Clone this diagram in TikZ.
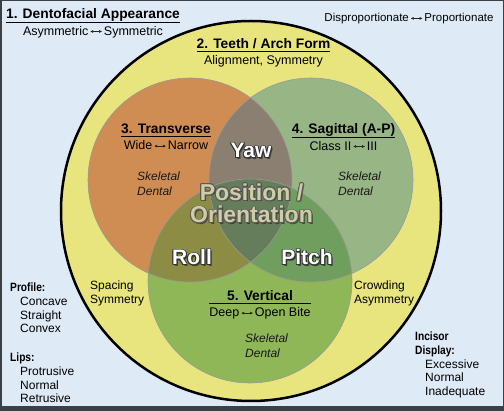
\documentclass[tikz,border=0pt]{standalone}
\usepackage{fontspec}
\setmainfont{Liberation Sans}
\usepackage{graphicx}
\usepackage{contour}
\contourlength{0.8pt}
\usetikzlibrary{arrows.meta}

\definecolor{frameC}{HTML}{3B4046}
\definecolor{skyC}{HTML}{DEEAF6}
\definecolor{archC}{HTML}{E8E57F}
\definecolor{transC}{HTML}{CF8D54}
\definecolor{sagC}{HTML}{98B586}
\definecolor{vertC}{HTML}{8FB657}
\definecolor{yawC}{HTML}{8A7F70}
\definecolor{rollC}{HTML}{8C8C44}
\definecolor{pitchC}{HTML}{6F9E5E}
\definecolor{midC}{HTML}{667D5B}
\definecolor{posC}{HTML}{CFCCA6}

\newsavebox{\arrbox}
\newcommand{\lra}{\kern1.5pt\raisebox{2.1pt}{\usebox{\arrbox}}\kern1.5pt}
\newcommand{\hd}[1]{\scalebox{0.85}[1]{\bfseries #1}}
\newcommand{\ind}{\hspace*{10pt}}
\newcommand{\ttl}[2]{{\renewcommand{\arraystretch}{0}\setlength{\arrayrulewidth}{1pt}%
  \begin{tabular}{@{}c@{}}{\fontsize{13.8}{16}\selectfont\bfseries #1}\rule[-2.5pt]{0pt}{13pt}\\\hline
  \rule{0pt}{12.5pt}#2\rule[-3.5pt]{0pt}{0pt}\end{tabular}}}

\begin{document}
\sbox{\arrbox}{\begin{pgfpicture}\color{black!85}\pgfsetlinewidth{0.6pt}%
  \pgfsetarrows{Latex[length=3pt,width=3pt]-Latex[length=3pt,width=3pt]}%
  \pgfpathmoveto{\pgfpointorigin}\pgfpathlineto{\pgfpoint{12pt}{0pt}}\pgfusepath{stroke}\end{pgfpicture}}
\begin{tikzpicture}[x=1pt,y=-1pt,
   venn/.style={draw=black!40,line width=0.6pt},
   ttl/.style={anchor=north,inner sep=0pt,font=\fontsize{12.5}{14}\selectfont},
   lbl/.style={anchor=north west,inner sep=0pt,align=left,font=\fontsize{12}{13.7}\selectfont},
   skel/.style={lbl,font=\fontsize{12}{15}\selectfont\itshape,text=black!90},
   axis/.style={anchor=base,inner sep=0pt,text=white,font=\fontsize{21}{23}\selectfont\bfseries},
   shade/.style={text=black,text opacity=0.45}]
   \useasboundingbox (0,0) rectangle (504,411);
   \fill[frameC] (0,0) rectangle (504,411);
   \fill[skyC] (1.5,1.5) rectangle (502.5,406);
   % circles
   \coordinate (big)   at (251,211);
   \coordinate (trans) at (190,180);
   \coordinate (sag)   at (311,180);
   \coordinate (vert)  at (250,281);
   \def\rad{102pt}
   \filldraw[fill=archC,draw=black,line width=2.5pt] (big) circle[radius=190pt];
   \fill[transC] (trans) circle[radius=\rad];
   \fill[sagC]   (sag)   circle[radius=\rad];
   \fill[vertC]  (vert)  circle[radius=\rad];
   \begin{scope}
      \clip (sag) circle[radius=\rad];
      \fill[pitchC] (vert) circle[radius=\rad];
   \end{scope}
   \begin{scope}
      \clip (trans) circle[radius=\rad];
      \fill[yawC]  (sag)  circle[radius=\rad];
      \fill[rollC] (vert) circle[radius=\rad];
      \clip (sag) circle[radius=\rad];
      \fill[midC]  (vert) circle[radius=\rad];
   \end{scope}
   \draw[venn] (trans) circle[radius=\rad];
   \draw[venn] (sag)   circle[radius=\rad];
   \draw[venn] (vert)  circle[radius=\rad];
   % titles
   \node[ttl] (face)  at (93,8)      {\ttl{1. Dentofacial Appearance}{Asymmetric\lra Symmetric}};
   \node[ttl] (arch)  at (263.5,38)  {\ttl{2. Teeth / Arch Form}{Alignment, Symmetry}};
   \node[ttl] (tran)  at (166,123)   {\ttl{3. Transverse}{Wide\lra Narrow}};
   \node[ttl] (sagit) at (343.5,123) {\ttl{4. Sagittal (A-P)}{Class II\lra III}};
   \node[ttl] (verti) at (260,290)   {\ttl{5. Vertical}{Deep\lra Open Bite}};
   \node[anchor=base,inner sep=0pt,font=\fontsize{11.5}{14}\selectfont] (ratio) at (409,22) {Disproportionate\lra Proportionate};
   % rotations
   \node[axis,shade] (yawS)   at (252.5,159.5) {Yaw};
   \node[axis,shade] (rollS)  at (193.5,266.5) {Roll};
   \node[axis,shade] (pitchS) at (308.5,266.5) {Pitch};
   \node[axis] (yaw)   at (251,158) {\contour{black!80}{Yaw}};
   \node[axis] (roll)  at (192,265) {\contour{black!80}{Roll}};
   \node[axis] (pitch) at (307,265) {\contour{black!80}{Pitch}};
   \node[axis,shade,anchor=north,align=center,font=\fontsize{23}{22.5}\selectfont\bfseries] (posS) at (253,185)
      {Position /\\Orientation};
   \node[axis,anchor=north,align=center,text=posC,font=\fontsize{23}{22.5}\selectfont\bfseries] (pos) at (251.5,183.5)
      {\contour{black!65}{Position /}\\\contour{black!65}{Orientation}};
   % skeletal / dental
   \node[skel] (skelA) at (137,172) {Skeletal\\Dental};
   \node[skel] (skelB) at (338,172) {Skeletal\\Dental};
   \node[skel] (skelC) at (245,334) {Skeletal\\Dental};
   % side lists
   \node[lbl] (spacing)  at (90,281)  {Spacing\\Symmetry};
   \node[lbl] (crowding) at (354,281) {Crowding\\Asymmetry};
   \node[lbl] (profile)  at (10,283)  {\hd{Profile:}\\\ind Concave\\\ind Straight\\\ind Convex};
   \node[lbl] (lips)     at (10,353)  {\hd{Lips:}\\\ind Protrusive\\\ind Normal\\\ind Retrusive};
   \node[lbl] (incisor)  at (415,332) {\hd{Incisor}\\\hd{Display:}\\\ind Excessive\\\ind Normal\\\ind Inadequate};
\end{tikzpicture}
\end{document}
